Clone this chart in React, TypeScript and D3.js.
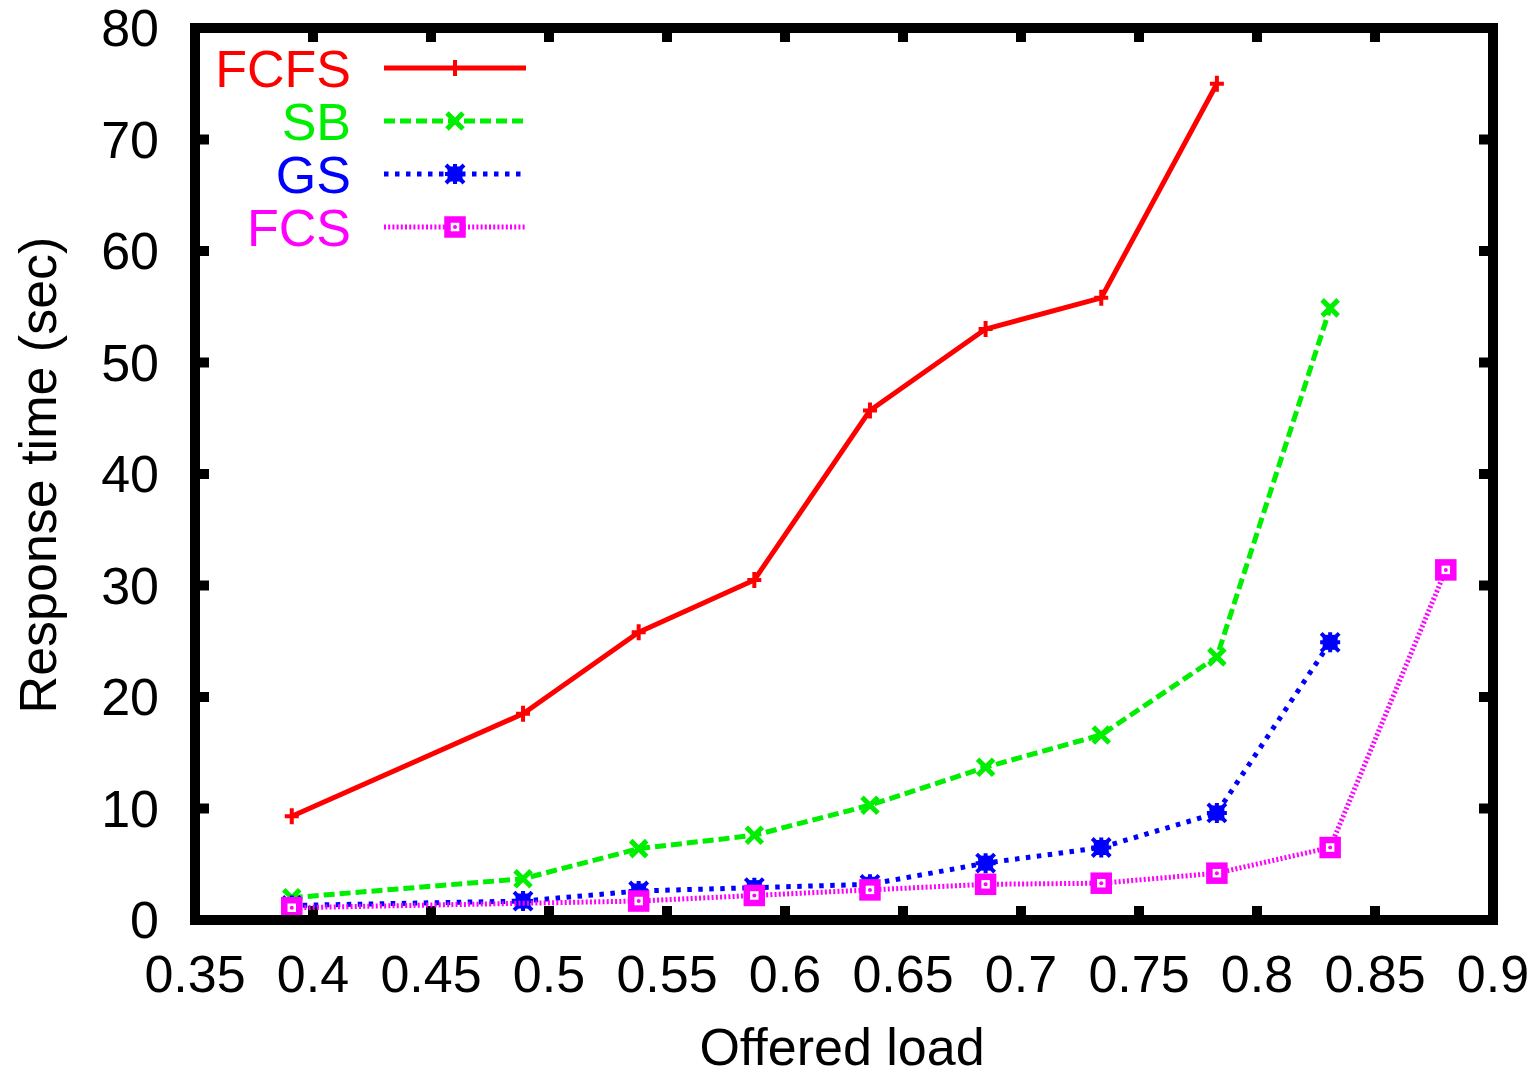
import { useEffect, useRef } from "react";
import * as d3 from "d3";

// offered load at each measured point
const loads = [0.391, 0.489, 0.538, 0.587, 0.636, 0.685, 0.734, 0.783, 0.831, 0.88];

// response times (sec); null = no measurement at that load
const fcfs = [9.3, 18.5, 25.8, 30.5, 45.7, 53.0, 55.8, 75.0, null, null];
const sb = [2.0, 3.7, 6.4, 7.6, 10.3, 13.7, 16.6, 23.6, 54.9, null];
const gs = [1.3, 1.7, 2.6, 2.9, 3.2, 5.1, 6.5, 9.6, 24.9, null];
const fcs = [1.1, null, 1.7, 2.2, 2.7, 3.2, 3.3, 4.2, 6.5, 31.4];

const xTicks = [0.35, 0.4, 0.45, 0.5, 0.55, 0.6, 0.65, 0.7, 0.75, 0.8, 0.85, 0.9];
const yTicks = [0, 10, 20, 30, 40, 50, 60, 70, 80];

const series = [
  { name: "FCFS", values: fcfs, color: "#ff0000", dash: null, marker: "plus" },
  { name: "SB", values: sb, color: "#00ee00", dash: "11,5", marker: "cross" },
  { name: "GS", values: gs, color: "#0000ff", dash: "4.5,6.5", marker: "star" },
  { name: "FCS", values: fcs, color: "#ff00ff", dash: "2,2.2", marker: "box" },
];

const FONT = "'Liberation Sans', Arial, sans-serif";
const FS = 52;

function drawMarker(g, kind, cx, cy, color) {
  const m = g.append("g").attr("transform", `translate(${cx},${cy})`);
  if (kind === "plus") {
    m.append("path").attr("d", "M-7,0H7M0,-8V8").attr("stroke", color).attr("stroke-width", 4);
  } else if (kind === "cross") {
    m.append("path").attr("d", "M-8,-8L8,8M-8,8L8,-8").attr("stroke", color).attr("stroke-width", 5);
  } else if (kind === "star") {
    m.append("rect").attr("x", -7.5).attr("y", -7.5).attr("width", 15).attr("height", 15).attr("fill", color);
    m.append("path").attr("d", "M-9,-9L9,9M-9,9L9,-9M-10,0H10M0,-10V10").attr("stroke", color).attr("stroke-width", 4);
  } else {
    m.append("rect").attr("x", -7.5).attr("y", -7.5).attr("width", 15).attr("height", 15)
      .attr("fill", "white").attr("stroke", color).attr("stroke-width", 6.5);
    m.append("circle").attr("r", 2).attr("fill", color);
  }
}

export default function App() {
  const ref = useRef(null);

  useEffect(() => {
    const svg = d3.select(ref.current);
    svg.selectAll("*").remove();

    const x = d3.scaleLinear().domain([0.35, 0.9]).range([195, 1493]);
    const y = d3.scaleLinear().domain([0, 80]).range([920, 28]);

    // ticks (inside, mirrored)
    const ticks = svg.append("g").attr("stroke", "black").attr("stroke-width", 10);
    xTicks.forEach((t) => {
      ticks.append("line").attr("x1", x(t)).attr("x2", x(t)).attr("y1", 920).attr("y2", 906);
      ticks.append("line").attr("x1", x(t)).attr("x2", x(t)).attr("y1", 28).attr("y2", 42);
    });
    yTicks.forEach((t) => {
      ticks.append("line").attr("x1", 195).attr("x2", 209).attr("y1", y(t)).attr("y2", y(t));
      ticks.append("line").attr("x1", 1493).attr("x2", 1479).attr("y1", y(t)).attr("y2", y(t));
    });

    // tick labels
    svg.append("g").selectAll("text").data(xTicks).enter().append("text")
      .attr("x", (d) => x(d)).attr("y", 992)
      .attr("text-anchor", "middle")
      .attr("font-family", FONT).attr("font-size", FS)
      .text((d) => String(d));
    svg.append("g").selectAll("text").data(yTicks).enter().append("text")
      .attr("x", 159).attr("y", (d) => y(d) + 18)
      .attr("text-anchor", "end")
      .attr("font-family", FONT).attr("font-size", FS)
      .text((d) => String(d));

    // axis titles
    svg.append("text")
      .attr("x", 842).attr("y", 1065)
      .attr("text-anchor", "middle")
      .attr("font-family", FONT).attr("font-size", FS)
      .text("Offered load");
    svg.append("text")
      .attr("transform", "translate(56,475) rotate(-90)")
      .attr("text-anchor", "middle")
      .attr("font-family", FONT).attr("font-size", FS)
      .text("Response time (sec)");

    // series
    series.forEach((s) => {
      const pts = loads.map((l, i) => [l, s.values[i]]).filter((p) => p[1] != null);
      const line = d3.line().x((d) => x(d[0])).y((d) => y(d[1]));
      svg.append("path")
        .datum(pts)
        .attr("d", line)
        .attr("fill", "none")
        .attr("stroke", s.color)
        .attr("stroke-width", 5)
        .attr("stroke-dasharray", s.dash)
        .attr("stroke-linejoin", "round");
      const mg = svg.append("g");
      pts.forEach((p) => drawMarker(mg, s.marker, x(p[0]), y(p[1]), s.color));
    });

    // legend
    series.forEach((s, i) => {
      const ly = 68 + i * 53;
      svg.append("text")
        .attr("x", 351).attr("y", ly + 19)
        .attr("text-anchor", "end")
        .attr("font-family", FONT).attr("font-size", FS)
        .attr("fill", s.color)
        .text(s.name);
      svg.append("line")
        .attr("x1", 384).attr("x2", 526).attr("y1", ly).attr("y2", ly)
        .attr("stroke", s.color).attr("stroke-width", 5)
        .attr("stroke-dasharray", s.dash);
      drawMarker(svg.append("g"), s.marker, 455, ly, s.color);
    });

    // frame
    svg.append("rect")
      .attr("x", 195).attr("y", 28)
      .attr("width", 1493 - 195).attr("height", 920 - 28)
      .attr("fill", "none").attr("stroke", "black").attr("stroke-width", 10);
  }, []);

  return (
    <svg
      ref={ref}
      width={1534}
      height={1077}
      style={{ position: "absolute", left: 0, top: 0, background: "white" }}
    />
  );
}
